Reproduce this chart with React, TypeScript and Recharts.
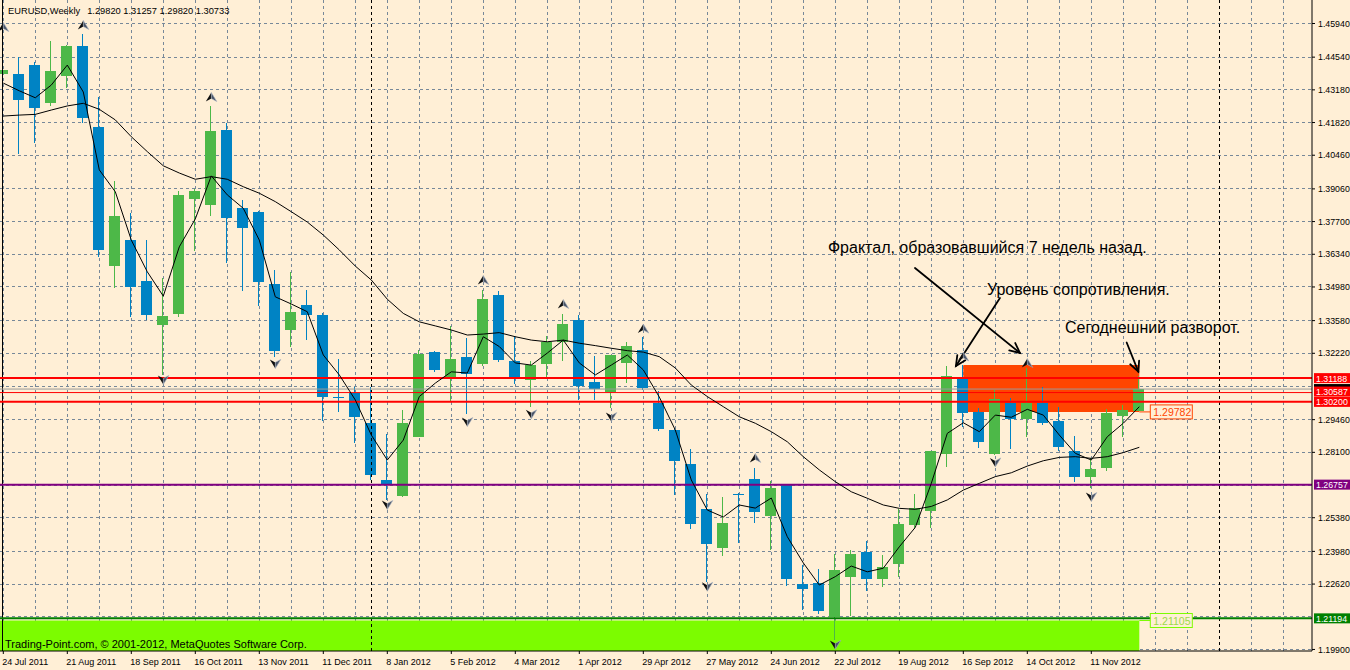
import React from "react";
import {
  ComposedChart,
  Bar,
  Line,
  Scatter,
  XAxis,
  YAxis,
  CartesianGrid,
  ReferenceLine,
  ReferenceArea,
  ReferenceDot,
} from "recharts";

const FONT = "'Liberation Sans', Arial, sans-serif";
const BG = "#FFEFD6";
const UP = "#4DB848";
const DOWN = "#0083C4";
const GRID = "#778899";

// EURUSD weekly, first bar = week of 24 Jul 2011, one label every 4 bars
const tickDates = [
  "24 Jul 2011", "21 Aug 2011", "18 Sep 2011", "16 Oct 2011", "13 Nov 2011", "11 Dec 2011",
  "8 Jan 2012", "5 Feb 2012", "4 Mar 2012", "1 Apr 2012", "29 Apr 2012", "27 May 2012",
  "24 Jun 2012", "22 Jul 2012", "19 Aug 2012", "16 Sep 2012", "14 Oct 2012", "11 Nov 2012",
];

const opens = [
  1.4384, 1.4384, 1.4421, 1.4265, 1.4377, 1.45, 1.4163, 1.3585, 1.3693, 1.3523,
  1.3341, 1.3386, 1.3864, 1.384, 1.4151, 1.3827, 1.381, 1.351, 1.332, 1.3423,
  1.3381, 1.3039, 1.3058, 1.2932, 1.2695, 1.2628, 1.2875, 1.3227, 1.3122, 1.3207,
  1.3178, 1.3465, 1.319, 1.3111, 1.3178, 1.3269, 1.3361, 1.3103, 1.3061, 1.3183,
  1.3236, 1.3014, 1.2903, 1.2762, 1.2574, 1.2412, 1.2637, 1.2699, 1.2545, 1.2674,
  1.2262, 1.2265, 1.2125, 1.2291, 1.2397, 1.2283, 1.2346, 1.2508, 1.2566, 1.2803,
  1.3115, 1.2979, 1.2803, 1.3015, 1.2949, 1.3015, 1.294, 1.2816, 1.2709, 1.2746,
  1.2961, 1.2982,
];
const highs = [
  1.4539, 1.4456, 1.4433, 1.4521, 1.4503, 1.455, 1.4287, 1.3939, 1.3807, 1.3693,
  1.3537, 1.3897, 1.3906, 1.4251, 1.4179, 1.386, 1.3812, 1.3569, 1.3559, 1.3485,
  1.339, 1.3198, 1.3083, 1.3083, 1.2886, 1.2986, 1.3236, 1.3232, 1.3336, 1.3287,
  1.3485, 1.348, 1.3294, 1.319, 1.3294, 1.3386, 1.338, 1.3211, 1.3215, 1.3269,
  1.3289, 1.3065, 1.2907, 1.2823, 1.2637, 1.2624, 1.2641, 1.2746, 1.2691, 1.2676,
  1.2341, 1.2325, 1.2387, 1.2404, 1.2441, 1.2383, 1.2574, 1.2637, 1.2816, 1.3169,
  1.3173, 1.2994, 1.3069, 1.3036, 1.3161, 1.3082, 1.2999, 1.2878, 1.2786, 1.299,
  1.3007, 1.31257,
];
const lows = [
  1.4231, 1.4051, 1.4098, 1.4252, 1.4324, 1.4181, 1.3624, 1.3492, 1.3374, 1.3361,
  1.3132, 1.3374, 1.3649, 1.3794, 1.3599, 1.3483, 1.342, 1.3208, 1.325, 1.3277,
  1.294, 1.2979, 1.285, 1.2695, 1.2612, 1.2623, 1.2874, 1.3144, 1.3021, 1.297,
  1.3169, 1.3186, 1.3094, 1.3, 1.3123, 1.3191, 1.3028, 1.3028, 1.2994, 1.31,
  1.3069, 1.2899, 1.2633, 1.2491, 1.2272, 1.238, 1.2434, 1.2516, 1.2404, 1.2254,
  1.2154, 1.2138, 1.2029, 1.213, 1.2233, 1.225, 1.2291, 1.2491, 1.2495, 1.2749,
  1.2914, 1.2828, 1.28, 1.2824, 1.2874, 1.2924, 1.2816, 1.2688, 1.2662, 1.2734,
  1.2875, 1.2982,
];
const closes = [
  1.4401, 1.4276, 1.4243, 1.4396, 1.45, 1.4202, 1.3653, 1.3793, 1.3497, 1.3381,
  1.3379, 1.3881, 1.3897, 1.4147, 1.3786, 1.3743, 1.352, 1.3233, 1.3394, 1.3381,
  1.3041, 1.3038, 1.2958, 1.2716, 1.2678, 1.2932, 1.3219, 1.3153, 1.3198, 1.3136,
  1.3448, 1.3194, 1.3123, 1.3173, 1.3269, 1.3344, 1.3086, 1.3072, 1.3213, 1.3252,
  1.3079, 1.2907, 1.2774, 1.2513, 1.2429, 1.2516, 1.2636, 1.2562, 1.2662, 1.2283,
  1.2242, 1.215, 1.2321, 1.2387, 1.2283, 1.2333, 1.2512, 1.2578, 1.2814, 1.3128,
  1.2975, 1.2854, 1.3032, 1.2949, 1.3015, 1.2933, 1.2833, 1.2709, 1.2739, 1.2974,
  1.2985, 1.30733,
];

// two moving averages drawn over the candles
const fastMa = [
  1.4346, 1.4314, 1.4285, 1.4338, 1.4421, 1.4309, 1.3985, 1.3894, 1.3693, 1.3561,
  1.346, 1.3665, 1.3781, 1.396, 1.3881, 1.3825, 1.3693, 1.3457, 1.3427, 1.3395,
  1.3215, 1.3132, 1.3028, 1.2882, 1.2778, 1.2861, 1.3042, 1.3098, 1.3145, 1.314,
  1.3291, 1.325, 1.3182, 1.3173, 1.3223, 1.3277, 1.3182, 1.3132, 1.3173, 1.3215,
  1.3153, 1.304, 1.2903, 1.2695, 1.257, 1.2541, 1.2591, 1.2578, 1.262, 1.2459,
  1.235, 1.2258, 1.2293, 1.2337, 1.2313, 1.2328, 1.2417, 1.2498, 1.2681, 1.2889,
  1.2933, 1.2896, 1.2965, 1.2956, 1.2989, 1.2965, 1.2882, 1.2806, 1.2778, 1.2875,
  1.2931, 1.3,
];
const slowMa = [
  1.4209, 1.4213, 1.4216, 1.4234, 1.4251, 1.4262, 1.4237, 1.4193, 1.4123, 1.4061,
  1.4002, 1.3972, 1.3946, 1.3957, 1.3946, 1.3915, 1.3888, 1.3853, 1.3811, 1.3768,
  1.3714, 1.3652, 1.3585, 1.3527, 1.3447, 1.3388, 1.3353, 1.3336, 1.3319, 1.3298,
  1.3302, 1.3308, 1.3291, 1.3277, 1.327, 1.3277, 1.3264, 1.3254, 1.3243, 1.3233,
  1.3227, 1.3208, 1.3161, 1.309, 1.3042, 1.3, 1.2958, 1.2931, 1.2896, 1.2854,
  1.2792, 1.2737, 1.2688, 1.2646, 1.2619, 1.2591, 1.2577, 1.2573, 1.2585, 1.2612,
  1.2653, 1.2681, 1.2709, 1.2725, 1.2753, 1.2775, 1.2789, 1.2792, 1.2785, 1.2792,
  1.2809, 1.2831,
];

const upFractalBars = [0, 5, 13, 30, 35, 40, 47, 60, 64];
const upFractalPrices = [1.4579, 1.4588, 1.4288, 1.3527, 1.3427, 1.3325, 1.2787, 1.3209, 1.3182];
const downFractalBars = [10, 17, 24, 29, 33, 38, 44, 52, 62, 68];
const downFractalPrices = [1.3111, 1.3178, 1.2591, 1.2936, 1.2968, 1.2957, 1.2251, 1.2009, 1.2768, 1.2624];

const priceTicks = [
  1.4594, 1.4454, 1.4318, 1.4182, 1.4046, 1.3906, 1.377, 1.3634, 1.3498, 1.3358,
  1.3222, 1.2946, 1.281, 1.2538, 1.2398, 1.2262, 1.199,
];
const hiddenGridPrices = [1.3086, 1.2674, 1.2126];

// horizontal levels
const resistance = [1.31188, 1.30587, 1.302];
const supportLevel = 1.26757;
const floorLevel = 1.21194;
const bidPrice = 1.30733;
const zoneTop = 1.31733;
const zoneBottom = 1.29782;
const baseZoneTop = 1.21105;
const zoneStartBar = 60;
const lastBar = 71;

const notes = [
  { text: "Фрактал, образовавшийся 7 недель назад.", i: 51.54, p: 1.36642 },
  { text: "Уровень сопротивления.", i: 61.48, p: 1.34895 },
  { text: "Сегоднешний разворот.", i: 66.36, p: 1.33273 },
];
const pointers = [
  { from: { x: 56.98, y: 1.35769 }, to: { x: 63.54, y: 1.32233 } },
  { from: { x: 62.29, y: 1.34521 }, to: { x: 59.54, y: 1.31692 } },
  { from: { x: 70.21, y: 1.3267 }, to: { x: 70.94, y: 1.31455 } },
];

const X_MIN = -0.20625;
const X_MAX = 81.79375;
const Y_MIN = 1.19836;
const Y_MAX = 1.469176;

const rows = opens.map((o, i) => ({
  i,
  o,
  h: highs[i],
  l: lows[i],
  c: closes[i],
  range: [lows[i], highs[i]],
  fast: fastMa[i],
  slow: slowMa[i],
}));

const upFractals = upFractalBars.map((i, k) => ({ i, p: upFractalPrices[k] }));
const downFractals = downFractalBars.map((i, k) => ({ i, p: downFractalPrices[k] }));
const labelBars = tickDates.map((_, k) => k * 4);
const gridBars = Array.from({ length: 41 }, (_, k) => k * 2);
const gridPrices = [...priceTicks, ...hiddenGridPrices];

const Candle = (props: any) => {
  const { x, y, width, height, payload } = props;
  if (!payload) return null;
  const top = Math.min(y, y + height);
  const span = Math.abs(height);
  const { o, h, l, c } = payload;
  const toY = (v: number) => top + ((h - v) / (h - l || 1e-9)) * span;
  const color = c >= o ? UP : DOWN;
  const cx = x + width / 2;
  const bodyTop = toY(Math.max(o, c));
  const bodyH = Math.max(1, toY(Math.min(o, c)) - bodyTop);
  return (
    <g shapeRendering="crispEdges">
      <line x1={cx} x2={cx} y1={top} y2={top + span} stroke={color} strokeWidth={1} />
      <rect x={x} y={bodyTop} width={width} height={bodyH} fill={color} />
    </g>
  );
};

// arrowhead glyph, dark on the left half, slate on the right half
const fractalGlyph = (cx: number, cy: number, dir: 1 | -1) => {
  const tip = cy - 4.5 * dir;
  const base = cy + 4.5 * dir;
  const notch = cy + 1.5 * dir;
  return (
    <g>
      <path d={`M${cx},${tip} L${cx - 5.5},${base} L${cx},${notch} Z`} fill="#0d0d0d" />
      <path d={`M${cx},${tip} L${cx + 5.5},${base} L${cx},${notch} Z`} fill="#4a5466" stroke="#aab4c4" strokeWidth={0.6} />
    </g>
  );
};
const UpFractal = (p: any) => fractalGlyph(p.cx, p.cy, 1);
const DownFractal = (p: any) => fractalGlyph(p.cx, p.cy, -1);

const DateTick = (props: any) => {
  const { x, y, payload } = props;
  const label = tickDates[Math.round(payload.value / 4)];
  return (
    <text x={x - 1} y={y + 9} fontSize={9} fontFamily={FONT} fill="#000" textAnchor="start">
      {label}
    </text>
  );
};

// coloured price tag on the right-hand scale
const axisTag = (text: string, bg: string, shift = 0) => (p: any) => {
  const vb = p.viewBox || {};
  const left = (vb.x ?? 0) + (vb.width ?? 0) + 2;
  const cy = (vb.y ?? 0) + shift;
  return (
    <g>
      <rect x={left} y={cy - 5} width={40} height={10} fill={bg} />
      {text ? (
        <text x={left + 2} y={cy + 0.5} dominantBaseline="central" fill="#fff" fontSize={8.8} fontFamily={FONT}>
          {text}
        </text>
      ) : null}
    </g>
  );
};

// price label hanging off the right end of a zone
const zoneTag = (text: string, border: string, color: string) => (p: any) => (
  <g>
    <line x1={p.cx} x2={p.cx + 11} y1={p.cy} y2={p.cy} stroke={border} strokeWidth={1} />
    <rect x={p.cx + 11} y={p.cy - 7} width={42} height={14} fill={BG} stroke={border} strokeWidth={1} />
    <text x={p.cx + 14} y={p.cy + 0.5} dominantBaseline="central" fill={color} fontSize={10.5} fontFamily={FONT}>
      {text}
    </text>
  </g>
);

const noteText = (text: string) => (p: any) => (
  <text x={p.cx} y={p.cy} dominantBaseline="central" fontSize={16} fontFamily={FONT} fill="#000">
    {text}
  </text>
);

const Pointer = (p: any) => {
  const { x1, y1, x2, y2 } = p;
  const a = Math.atan2(y2 - y1, x2 - x1);
  const len = 11;
  const spread = 0.45;
  const h1x = x2 - len * Math.cos(a - spread);
  const h1y = y2 - len * Math.sin(a - spread);
  const h2x = x2 - len * Math.cos(a + spread);
  const h2y = y2 - len * Math.sin(a + spread);
  return (
    <g stroke="#000" strokeWidth={1.8} fill="none" strokeLinecap="round">
      <line x1={x1} y1={y1} x2={x2} y2={y2} />
      <polyline points={`${h1x},${h1y} ${x2},${y2} ${h2x},${h2y}`} />
    </g>
  );
};

export default function App() {
  const last = rows[rows.length - 1];
  const ohlc = [last.o, last.h, last.l, last.c].map((v) => v.toFixed(5)).join(" ");
  return (
    <div
      style={{
        position: "absolute",
        left: 0,
        top: 0,
        width: 1350,
        height: 670,
        background: BG,
        overflow: "hidden",
      }}
    >
      <ComposedChart width={1350} height={670} data={rows} margin={{ top: 0, right: 0, bottom: 0, left: 0 }}>
        <ReferenceArea
          x1={-1}
          x2={lastBar}
          y1={1.19}
          y2={baseZoneTop}
          fill="#7CFC00"
          fillOpacity={1}
          stroke="none"
          ifOverflow="hidden"
        />
        <ReferenceArea
          x1={zoneStartBar}
          x2={lastBar}
          y1={zoneBottom}
          y2={zoneTop}
          fill="#FF4500"
          fillOpacity={1}
          stroke="none"
          ifOverflow="visible"
        />
        <CartesianGrid
          stroke={GRID}
          strokeDasharray="3 3"
          horizontalValues={gridPrices}
          verticalValues={gridBars}
          shapeRendering="crispEdges"
        />
        <ReferenceLine x={-0.08} stroke="#000" strokeWidth={1} shapeRendering="crispEdges" />
        <ReferenceLine x={23} stroke="#000" strokeDasharray="3 3" shapeRendering="crispEdges" />
        <ReferenceLine x={76} stroke="#000" strokeDasharray="3 3" shapeRendering="crispEdges" />

        <XAxis
          dataKey="i"
          type="number"
          domain={[X_MIN, X_MAX]}
          allowDataOverflow
          ticks={labelBars}
          interval={0}
          height={19}
          tickSize={3}
          axisLine={{ stroke: "#000" }}
          tickLine={{ stroke: "#000" }}
          tick={<DateTick />}
        />
        <YAxis
          orientation="right"
          type="number"
          domain={[Y_MIN, Y_MAX]}
          allowDataOverflow
          ticks={priceTicks}
          interval={0}
          width={38}
          tickSize={3}
          tickMargin={3}
          axisLine={{ stroke: "#000" }}
          tickLine={{ stroke: "#000" }}
          tick={{ fill: "#000", fontSize: 8.8, fontFamily: FONT }}
          tickFormatter={(v: number) => v.toFixed(5)}
        />

        <Bar dataKey="range" barSize={11} shape={<Candle />} activeBar={false} isAnimationActive={false} />

        <ReferenceLine y={bidPrice} stroke="#9A9A9A" strokeWidth={1} label={axisTag("", "#000")} />
        <ReferenceLine y={resistance[0]} stroke="#FF0000" strokeWidth={2} label={axisTag(resistance[0].toFixed(5), "#FF0000")} />
        <ReferenceLine y={resistance[1]} stroke="#FF0000" strokeWidth={1} label={axisTag(resistance[1].toFixed(5), "#FF0000", -1)} />
        <ReferenceLine y={resistance[2]} stroke="#FF0000" strokeWidth={2} label={axisTag(resistance[2].toFixed(5), "#FF0000")} />
        <ReferenceLine y={supportLevel} stroke="#800080" strokeWidth={2} label={axisTag(supportLevel.toFixed(5), "#800080")} />
        <ReferenceLine y={floorLevel} stroke="#008000" strokeWidth={2} label={axisTag(floorLevel.toFixed(5), "#008000")} />

        <Line dataKey="slow" type="linear" stroke="#000" strokeWidth={1} dot={false} activeDot={false} isAnimationActive={false} />
        <Line dataKey="fast" type="linear" stroke="#000" strokeWidth={1} dot={false} activeDot={false} isAnimationActive={false} />

        <Scatter data={upFractals} dataKey="p" shape={UpFractal} isAnimationActive={false} />
        <Scatter data={downFractals} dataKey="p" shape={DownFractal} isAnimationActive={false} />

        <ReferenceDot x={lastBar} y={zoneBottom} r={0} shape={zoneTag(zoneBottom.toFixed(5), "#FF4500", "#FF4500")} />
        <ReferenceDot x={lastBar} y={baseZoneTop} r={0} shape={zoneTag(baseZoneTop.toFixed(5), "#7CFC00", "#9BD94A")} />

        {notes.map((n) => (
          <ReferenceDot key={n.text} x={n.i} y={n.p} r={0} shape={noteText(n.text)} />
        ))}
        {pointers.map((a, k) => (
          <ReferenceLine key={k} segment={[a.from, a.to]} shape={Pointer} />
        ))}
      </ComposedChart>
      <svg
        width={1350}
        height={670}
        style={{ position: "absolute", left: 0, top: 0, pointerEvents: "none" }}
      >
        <text x={8} y={13.5} fontSize={9.3} fontFamily={FONT} fill="#000">
          EURUSD,Weekly
          <tspan dx={7}>{ohlc}</tspan>
        </text>
        <text x={5} y={648} fontSize={11} fontFamily={FONT} fill="#000">
          Trading-Point.com, © 2001-2012, MetaQuotes Software Corp.
        </text>
      </svg>
    </div>
  );
}
